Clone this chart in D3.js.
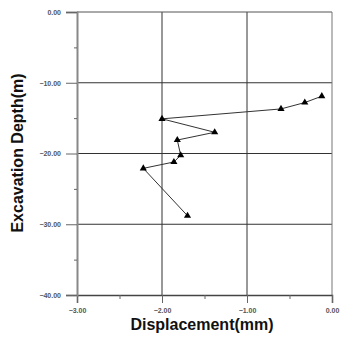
<!DOCTYPE html>
<html><head><meta charset="utf-8">
<script src="https://cdn.jsdelivr.net/npm/d3@7"></script>
<style>body{margin:0;background:#fff;}svg{display:block;}</style>
</head><body>
<script>
const displacement = [-0.12, -0.32, -0.60, -2.00, -1.38, -1.82, -1.78, -1.86, -2.22, -1.70];
const depth = [-11.9, -12.8, -13.7, -15.1, -17.0, -18.1, -20.25, -21.2, -22.1, -28.8];
const xTicks = [-3, -2, -1, 0];
const yTicks = [0, -10, -20, -30, -40];
const xMinor = [-2.5, -1.5, -0.5];
const yMinor = [-5, -15, -25, -35];
const xTitle = "Displacement(mm)";
const yTitle = "Excavation Depth(m)";

const W = 342, H = 338;
const m = {left: 77, right: 10, top: 12, bottom: 43};
const svg = d3.select("body").append("svg").attr("width", W).attr("height", H);
const x = d3.scaleLinear().domain([-3, 0]).range([m.left, W - m.right]);
const y = d3.scaleLinear().domain([0, -40]).range([m.top, H - m.bottom]);

// gridlines
svg.append("g").selectAll("line").data([-2, -1]).join("line")
  .attr("x1", d => x(d)).attr("x2", d => x(d)).attr("y1", y(0)).attr("y2", y(-40))
  .attr("stroke", "#333").attr("stroke-width", 1);
svg.append("g").selectAll("line").data([-10, -20, -30]).join("line")
  .attr("y1", d => y(d)).attr("y2", d => y(d)).attr("x1", x(-3)).attr("x2", x(0))
  .attr("stroke", "#333").attr("stroke-width", 1);
// frame
svg.append("line").attr("x1", x(-3)).attr("x2", x(0)).attr("y1", y(0)).attr("y2", y(0)).attr("stroke", "#555");
svg.append("line").attr("x1", x(0)).attr("x2", x(0)).attr("y1", y(0)).attr("y2", y(-40)).attr("stroke", "#777");

const tf = d => d3.format(".2f")(d);
// x axis
const xa = svg.append("g").attr("transform", `translate(0,${y(-40)})`)
  .call(d3.axisBottom(x).tickValues(xTicks).tickFormat(tf).tickSize(8).tickPadding(5));
svg.append("g").attr("transform", `translate(0,${y(-40)})`)
  .call(d3.axisBottom(x).tickValues(xMinor).tickFormat("").tickSize(4))
  .call(g => g.select(".domain").remove());
// y axis
const ya = svg.append("g").attr("transform", `translate(${x(-3)},0)`)
  .call(d3.axisLeft(y).tickValues(yTicks).tickFormat(tf).tickSize(11).tickPadding(5));
svg.append("g").attr("transform", `translate(${x(-3)},0)`)
  .call(d3.axisLeft(y).tickValues(yMinor).tickFormat("").tickSize(3))
  .call(g => g.select(".domain").remove());

svg.selectAll(".domain").attr("stroke", "#666").attr("stroke-width", 1.5);
xa.select(".domain").attr("stroke", "#444");
ya.select(".domain").attr("stroke", "#888").attr("stroke-width", 2);
svg.selectAll(".tick line").attr("stroke", "#666");
svg.selectAll(".tick text").attr("font-family", "Arial, 'Liberation Sans', sans-serif")
  .attr("font-size", 7).attr("font-weight", "bold").attr("fill", "#555");

// series
const pts = displacement.map((d, i) => [d, depth[i]]);
svg.append("path").datum(pts)
  .attr("d", d3.line().x(d => x(d[0])).y(d => y(d[1])))
  .attr("fill", "none").attr("stroke", "#333").attr("stroke-width", 1);
svg.append("g").selectAll("path").data(pts).join("path")
  .attr("transform", d => `translate(${x(d[0])},${y(d[1])})`)
  .attr("d", d3.symbol(d3.symbolTriangle, 22))
  .attr("fill", "#000");

// titles
svg.append("text").attr("x", 202).attr("y", 330).attr("text-anchor", "middle")
  .attr("font-family", "Arial, 'Liberation Sans', sans-serif").attr("font-weight", "bold")
  .attr("font-size", 16).attr("fill", "#111").text(xTitle);
svg.append("text").attr("transform", "translate(23,153) rotate(-90)").attr("text-anchor", "middle")
  .attr("font-family", "Arial, 'Liberation Sans', sans-serif").attr("font-weight", "bold")
  .attr("font-size", 16).attr("fill", "#111").text(yTitle);
</script>
</body></html>
